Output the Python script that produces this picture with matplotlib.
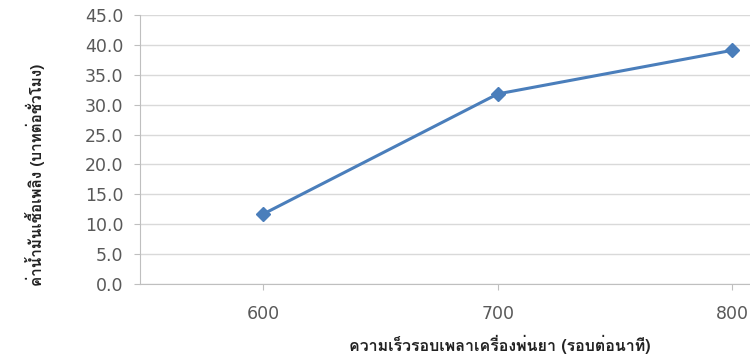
import matplotlib
matplotlib.use("Agg")
import matplotlib.pyplot as plt
from matplotlib import font_manager
from fontTools.ttLib import TTFont

# data
speeds = [600, 700, 800]
fuel_cost = [11.7, 31.8, 39.1]
y_ticks = [0, 5, 10, 15, 20, 25, 30, 35, 40, 45]

x_title = "ความเร็วรอบเพลาเครื่องพ่นยา (รอบต่อนาที)"
y_title = "ค่าน้ำมันเชื้อเพลิง (บาทต่อชั่วโมง)"


# look for an installed family that has Thai letters
def find_thai_font():
    for f in font_manager.fontManager.ttflist:
        try:
            cmap = TTFont(f.fname, fontNumber=0, lazy=True).getBestCmap()
            if cmap and 0x0E01 in cmap and 0x0E48 in cmap:
                return f.name
        except Exception:
            pass
    return None


thai = find_thai_font()
families = [thai, "DejaVu Sans"] if thai else ["DejaVu Sans"]

fig = plt.figure(figsize=(7.5, 3.56), dpi=100)
ax = fig.add_axes([140 / 750, 72 / 356, 610 / 750, 269 / 356])

ax.plot(speeds, fuel_cost, color="#4A7EBB", linewidth=2.2,
        marker="D", markersize=7, markerfacecolor="#4A7EBB",
        markeredgecolor="#4A7EBB", clip_on=False, zorder=3)

ax.set_xlim(547.5, 807.5)
ax.set_ylim(0, 45)
ax.set_xticks(speeds)
ax.set_yticks(y_ticks)
ax.set_yticklabels(["%.1f" % v for v in y_ticks])

ax.grid(axis="y", color="#D9D9D9", linewidth=1)
ax.set_axisbelow(True)
for s in ["top", "right"]:
    ax.spines[s].set_visible(False)
for s in ["left", "bottom"]:
    ax.spines[s].set_color("#BFBFBF")
ax.tick_params(axis="both", colors="#BFBFBF", labelcolor="#595959",
               labelsize=12.5, length=4)
ax.tick_params(axis="y", pad=8)
ax.tick_params(axis="x", pad=11)

ax.set_xlabel(x_title, family=families, fontsize=11.5, fontweight="bold",
              color="#222222")
ax.set_ylabel(y_title, family=families, fontsize=11, fontweight="bold",
              color="#222222")
# the titles sit off-centre in the original
ax.xaxis.set_label_coords(0.589, -0.19)
ax.yaxis.set_label_coords(-0.155, 0.405)

fig.savefig("out.png", dpi=100)
